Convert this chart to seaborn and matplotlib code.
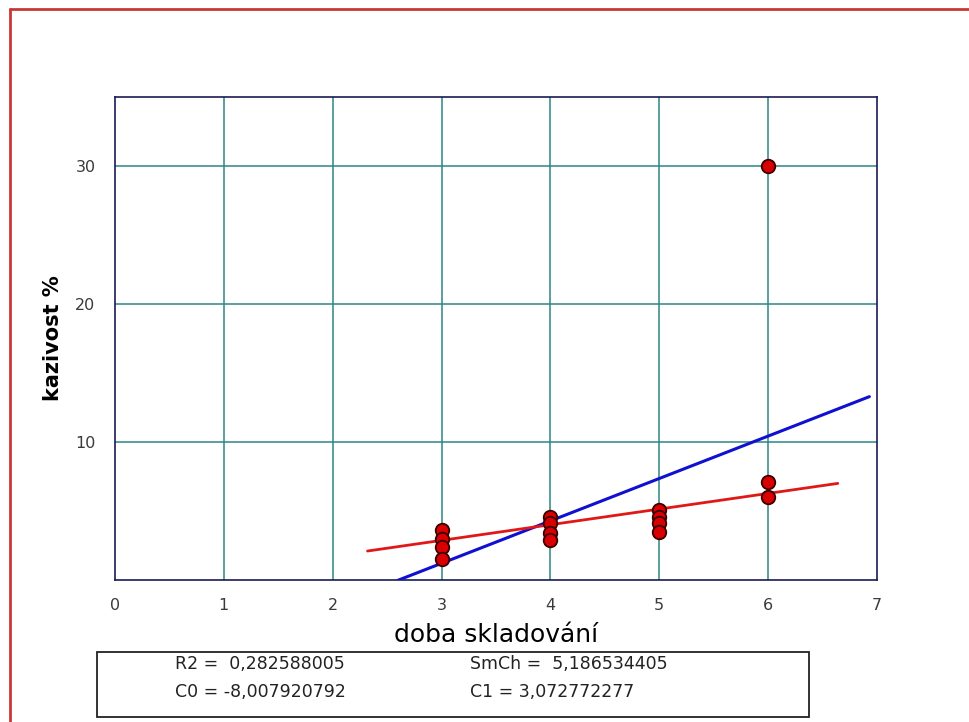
import matplotlib
matplotlib.use("Agg")
import matplotlib.pyplot as plt
import seaborn as sns
import pandas as pd
import numpy as np
from matplotlib.patches import Rectangle
from matplotlib.lines import Line2D

# ---- data ----
doba = [3, 3, 3, 3, 4, 4, 4, 4, 5, 5, 5, 5, 6, 6, 6]
kazivost = [3.6, 3.0, 2.4, 1.5, 4.6, 4.1, 3.4, 2.9, 5.1, 4.6, 4.1, 3.5, 30.0, 7.1, 6.0]
C0 = -8.007920792
C1 = 3.072772277
blue_x = [2.6, 6.93]
red_x = [2.32, 6.64]
red_y = [2.1, 7.0]
x_ticks = [0, 1, 2, 3, 4, 5, 6, 7]
y_ticks = [10, 20, 30]
stats_text = [["R2 =  0,282588005", "SmCh =  5,186534405"],
              ["C0 = -8,007920792", "C1 = 3,072772277"]]

W, H = 969, 722
sns.set_theme(style="white")
plt.rcParams['font.family'] = ['DejaVu Sans']

fig = plt.figure(figsize=(W / 100, H / 100), dpi=100)
fig.patch.set_facecolor("white")
ax = fig.add_axes([115 / W, 1 - 580 / H, 762 / W, 483 / H])
ax.set_facecolor("white")

# grid
grid_c = "#2e8585"
for xv in x_ticks[1:-1]:
    ax.axvline(xv, color=grid_c, lw=1.1, zorder=1)
for yv in y_ticks:
    ax.axhline(yv, color=grid_c, lw=1.1, zorder=1)

# regression lines
bx = np.array(blue_x)
line_df = pd.DataFrame({"x": list(bx) + red_x,
                        "y": list(C0 + C1 * bx) + red_y,
                        "s": ["blue"] * 2 + ["red"] * 2})
sns.lineplot(data=line_df[line_df.s == "blue"], x="x", y="y", color="#1010d0",
             lw=2.2, ax=ax, zorder=3)
sns.lineplot(data=line_df[line_df.s == "red"], x="x", y="y", color="#e01818",
             lw=2.0, ax=ax, zorder=3)

df = pd.DataFrame({"doba": doba, "kazivost": kazivost})
sns.scatterplot(data=df, x="doba", y="kazivost", color="#d80000", edgecolor="#3a0000",
                linewidth=1.3, s=95, ax=ax, zorder=4)

ax.set_xlim(0, 7)
ax.set_ylim(0, 35)
ax.set_xticks(x_ticks)
ax.set_yticks(y_ticks)
ax.tick_params(axis="both", length=0, labelsize=11.5, colors="#3a3a3a")
ax.tick_params(axis="x", pad=13)
ax.tick_params(axis="y", pad=14)
for sp in ax.spines.values():
    sp.set_color("#1a1a55")
    sp.set_linewidth(1.2)
ax.set_xlabel("doba skladování", fontsize=18, color="black", labelpad=7)
ax.set_ylabel("kazivost %", fontsize=15, fontweight="bold", color="black", labelpad=9)

# statistics box
fig.patches.append(Rectangle((97 / W, 1 - 717 / H), 712 / W, 65 / H,
                             transform=fig.transFigure, fill=False,
                             edgecolor="#222222", lw=1.3))
for r, yy in enumerate([664, 692]):
    fig.text(175 / W, 1 - yy / H, stats_text[r][0], fontsize=12.5, va="center",
             color="#222222")
    fig.text(470 / W, 1 - yy / H, stats_text[r][1], fontsize=12.5, va="center",
             color="#222222")

# red page frame
fig.add_artist(Line2D([10 / W, 10 / W], [0, 1 - 9 / H], transform=fig.transFigure,
                      color="#c83838", lw=2))
fig.add_artist(Line2D([10 / W, 1], [1 - 9 / H, 1 - 9 / H], transform=fig.transFigure,
                      color="#c83838", lw=2))

fig.savefig("out.png", dpi=100)
